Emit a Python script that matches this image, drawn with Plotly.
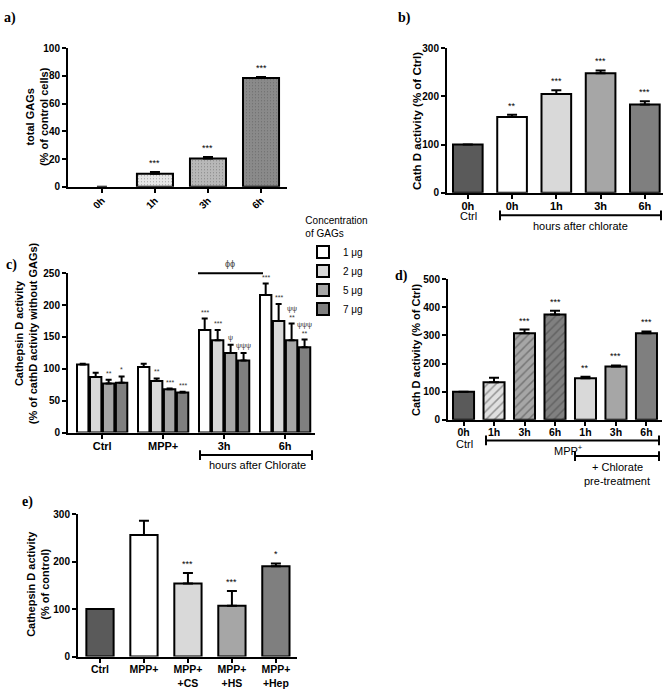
import plotly.graph_objects as go

FONT = "Arial, Liberation Sans, sans-serif"
SERIF = "Times New Roman, Liberation Serif, serif"
W, H = 670, 696

# ---------------- data ----------------
# Panel a
a_labels = ["0h", "1h", "3h", "6h"]
a_vals = [0, 9.5, 20.5, 78.5]
a_err = [0, 1.2, 1.0, 0.8]
a_sig = ["", "***", "***", "***"]

# Panel b
b_labels = ["0h", "0h", "1h", "3h", "6h"]
b_vals = [100, 157, 205, 248, 183]
b_err = [0, 5, 8, 6, 7]
b_sig = ["", "**", "***", "***", "***"]

# Panel c
c_groups = ["Ctrl", "MPP+", "3h", "6h"]
c_doses = ["1 μg", "2 μg", "5 μg", "7 μg"]
c_1ug = [107, 103, 161, 216]
c_2ug = [87, 81, 145, 175]
c_5ug = [77, 68, 125, 145]
c_7ug = [78, 63, 113, 134]
c_1ug_err = [1, 5, 18, 18]
c_2ug_err = [7, 4, 16, 27]
c_5ug_err = [6, 1, 13, 26]
c_7ug_err = [10, 1, 12, 12]
c_1ug_sig = ["", "", "***", "***"]
c_2ug_sig = ["", "**", "***", "***"]
c_5ug_sig = ["**", "***", "ψ", "ψψ<br>**"]
c_7ug_sig = ["*", "***", "ψψψ", "ψψψ<br>**"]

# Panel d
d_labels = ["0h", "1h", "3h", "6h", "1h", "3h", "6h"]
d_vals = [100, 133, 308, 374, 148, 189, 308]
d_err = [0, 16, 13, 14, 5, 4, 6]
d_sig = ["", "", "***", "***", "**", "***", "***"]

# Panel e
e_labels = ["Ctrl", "MPP+", "MPP+<br>+CS", "MPP+<br>+HS", "MPP+<br>+Hep"]
e_vals = [100, 256, 154, 107, 190]
e_err = [0, 30, 22, 31, 6]
e_sig = ["", "", "***", "***", "*"]

# ---------------- styles ----------------
a_colors = ["#ffffff", "#e6e6e6", "#b8b8b8", "#8a8a8a"]
b_colors = ["#5a5a5a", "#ffffff", "#d9d9d9", "#a6a6a6", "#7f7f7f"]
c_colors = ["#ffffff", "#d9d9d9", "#a6a6a6", "#7f7f7f"]
d_colors = ["#5a5a5a", "#e0e0e0", "#a6a6a6", "#808080", "#d9d9d9", "#a6a6a6", "#7f7f7f"]
d_shapes = ["", "/", "/", "/", "", "", ""]
e_colors = ["#5a5a5a", "#ffffff", "#d9d9d9", "#a6a6a6", "#7f7f7f"]


def px(x):
    return x / W


def py(y):
    return 1 - y / H


fig = go.Figure()
ann = []
shapes = []


def add_bars(axn, vals, errs, colors, width, pattern=None):
    n = len(vals)
    # bars of zero height get no outline, and zero errors get no bar
    lw = [2 if v > 0 else 0 for v in vals]
    ev = [e if e > 0 else None for e in errs]
    marker = dict(color=colors, line=dict(color="black", width=lw))
    if pattern is not None:
        marker["pattern"] = pattern
    fig.add_trace(go.Bar(
        x=list(range(n)), y=vals, width=width, marker=marker,
        error_y=dict(type="data", symmetric=False, array=ev, arrayminus=[0] * n,
                     color="black", thickness=2, width=5),
        xaxis="x" + axn, yaxis="y" + axn, showlegend=False, hoverinfo="skip"))


def add_sig(axn, xs, vals, errs, sigs, size=9, shift=2, color="black"):
    for x, v, e, s in zip(xs, vals, errs, sigs):
        if s:
            ann.append(dict(x=x, y=v + e, xref="x" + axn, yref="y" + axn, text=s,
                            showarrow=False, yanchor="bottom", yshift=shift,
                            font=dict(family=FONT, size=size, color=color)))


# a
add_bars("", a_vals, a_err, a_colors, 0.68,
         pattern=dict(shape=".", size=3, solidity=0.12, fgcolor="#777777", fillmode="overlay"))
add_sig("", range(4), a_vals, a_err, a_sig)
# b
add_bars("2", b_vals, b_err, b_colors, 0.67)
add_sig("2", range(5), b_vals, b_err, b_sig)
# c
c_series = [c_1ug, c_2ug, c_5ug, c_7ug]
c_errs = [c_1ug_err, c_2ug_err, c_5ug_err, c_7ug_err]
c_sigs = [c_1ug_sig, c_2ug_sig, c_5ug_sig, c_7ug_sig]
BARGAP = 0.15
for i, (name, vals, errs) in enumerate(zip(c_doses, c_series, c_errs)):
    fig.add_trace(go.Bar(
        x=list(range(len(c_groups))), y=vals, name=name,
        marker=dict(color=c_colors[i], line=dict(color="black", width=2)),
        error_y=dict(type="data", symmetric=False, array=errs, arrayminus=[0] * len(vals),
                     color="black", thickness=2, width=3),
        xaxis="x3", yaxis="y3", hoverinfo="skip"))
gw = 1 - BARGAP
slot = gw / len(c_doses)
for i in range(len(c_doses)):
    xs = [g - gw / 2 + (i + 0.5) * slot for g in range(len(c_groups))]
    add_sig("3", xs, c_series[i], c_errs[i], c_sigs[i], size=7, shift=1, color="#333333")
# d
add_bars("4", d_vals, d_err, d_colors, 0.69,
         pattern=dict(shape=d_shapes, size=6, solidity=0.25, fgcolor="#222222", fillmode="overlay"))
add_sig("4", range(7), d_vals, d_err, d_sig)
# e
add_bars("5", e_vals, e_err, e_colors, 0.62)
add_sig("5", range(5), e_vals, e_err, e_sig)

# ---------------- axes ----------------
tickfont = dict(family=FONT, size=10, color="black", weight="bold")
axbase = dict(showline=True, linecolor="black", linewidth=2, ticks="outside", ticklen=4,
              tickwidth=1.5, tickcolor="black", showgrid=False, zeroline=False,
              tickfont=tickfont, fixedrange=True)


def set_axes(axn, xdom, ydom, xr, yr, ytick, labels, xfont=None, tickangle=0):
    xa = dict(axbase, domain=[px(xdom[0]), px(xdom[1])], range=xr,
              tickmode="array", tickvals=list(range(len(labels))), ticktext=labels,
              anchor="y" + axn, tickangle=tickangle, ticklabelstandoff=-2)
    if xfont:
        xa["tickfont"] = xfont
    ya = dict(axbase, domain=[py(ydom[0]), py(ydom[1])], range=yr,
              tickmode="array", tickvals=ytick, anchor="x" + axn)
    key = axn if axn else ""
    fig.update_layout(**{"xaxis" + key: xa, "yaxis" + key: ya})


set_axes("", (68, 287), (184, 43), [-0.64, 3.49], [0, 100], [0, 20, 40, 60, 80, 100],
         a_labels, tickangle=-45)
set_axes("2", (447, 663), (190, 43), [-0.47, 4.41], [0, 300], [0, 100, 200, 300], b_labels,
         xfont=dict(family=FONT, size=11, color="black", weight="bold"))
set_axes("3", (68, 315), (434, 272), [-0.56, 3.49], [0, 250], [0, 50, 100, 150, 200, 250],
         c_groups, xfont=dict(family=FONT, size=11, color="black", weight="bold"))
set_axes("4", (448, 662), (421, 278), [-0.51, 6.51], [0, 500], [0, 100, 200, 300, 400, 500],
         d_labels, xfont=dict(family=FONT, size=10.5, color="black", weight="bold"))
set_axes("5", (78, 297), (662, 517), [-0.5, 4.48], [0, 300], [0, 100, 200, 300], e_labels,
         xfont=dict(family=FONT, size=10.5, color="black", weight="bold"))


# ---------------- text decorations ----------------
def text(x, y, s, size=11, bold=False, angle=0, family=FONT, color="black", xanchor="center"):
    ann.append(dict(x=px(x), y=py(y), xref="paper", yref="paper", text=s, showarrow=False,
                    textangle=angle, xanchor=xanchor, yanchor="middle",
                    font=dict(family=family, size=size, color=color,
                              weight="bold" if bold else "normal")))


def bracket(x0, x1, y, tick=5):
    shapes.append(dict(type="line", xref="paper", yref="paper", x0=px(x0), x1=px(x1),
                       y0=py(y), y1=py(y), line=dict(color="black", width=2)))
    for xx in (x0, x1):
        shapes.append(dict(type="line", xref="paper", yref="paper", x0=px(xx), x1=px(xx),
                           y0=py(y - tick), y1=py(y + tick), line=dict(color="black", width=2)))


# panel labels
text(10, 12, "a)", size=14, bold=True, family=SERIF)
text(404, 12, "b)", size=14, bold=True, family=SERIF)
text(11, 264, "c)", size=14, bold=True, family=SERIF)
text(401, 275, "d)", size=14, bold=True, family=SERIF)
text(27, 505, "e)", size=14, bold=True, family=SERIF)

# y titles
text(37, 113, "total GAGs<br>(% of control cells)", size=11, bold=True, angle=-90)
text(417, 117, "Cath D activity (% of Ctrl)", size=11.5, bold=True, angle=-90)
text(26, 333, "Cathepsin D activity<br>(% of cathD activity without GAGs)", size=11, bold=True, angle=-90)
text(416, 350, "Cath D activity (% of Ctrl)", size=11, bold=True, angle=-90)
text(38, 588, "Cathepsin D activity<br>(% of control)", size=11, bold=True, angle=-90)

# panel b extras
text(468, 214, "Ctrl", size=11)
bracket(500, 661, 213)
text(580, 224, "hours after chlorate", size=11)

# panel c extras
bracket(200, 312, 457)
text(257, 467, "hours after Chlorate", size=11)
shapes.append(dict(type="line", xref="paper", yref="paper", x0=px(198), x1=px(263),
                   y0=py(272), y1=py(272), line=dict(color="black", width=2)))
text(230, 263, "ϕϕ", size=9, color="#444444")

# panel d extras
text(464, 446, "Ctrl", size=11)
bracket(486, 659, 442)
text(568, 452, "MPP<sup>+</sup>", size=11)
bracket(575, 659, 458)
text(617, 469, "+ Chlorate", size=11)
text(617, 483, "pre-treatment", size=11)

fig.update_layout(
    width=W, height=H, margin=dict(l=0, r=0, t=0, b=0),
    paper_bgcolor="white", plot_bgcolor="white",
    barmode="group", bargap=BARGAP, bargroupgap=0.12,
    annotations=ann, shapes=shapes,
    legend=dict(x=px(303), y=py(209), xanchor="left", yanchor="top",
                title=dict(text="Concentration<br>of GAGs", side="top center",
                           font=dict(family=FONT, size=10, color="black")),
                font=dict(family=FONT, size=10, color="black"),
                tracegroupgap=0, itemwidth=30, bgcolor="rgba(0,0,0,0)"),
    font=dict(family=FONT, color="black"),
)

fig.write_html("out.html", config={"displayModeBar": False},
               post_script="document.body.style.margin='0';document.body.style.overflow='hidden';")
